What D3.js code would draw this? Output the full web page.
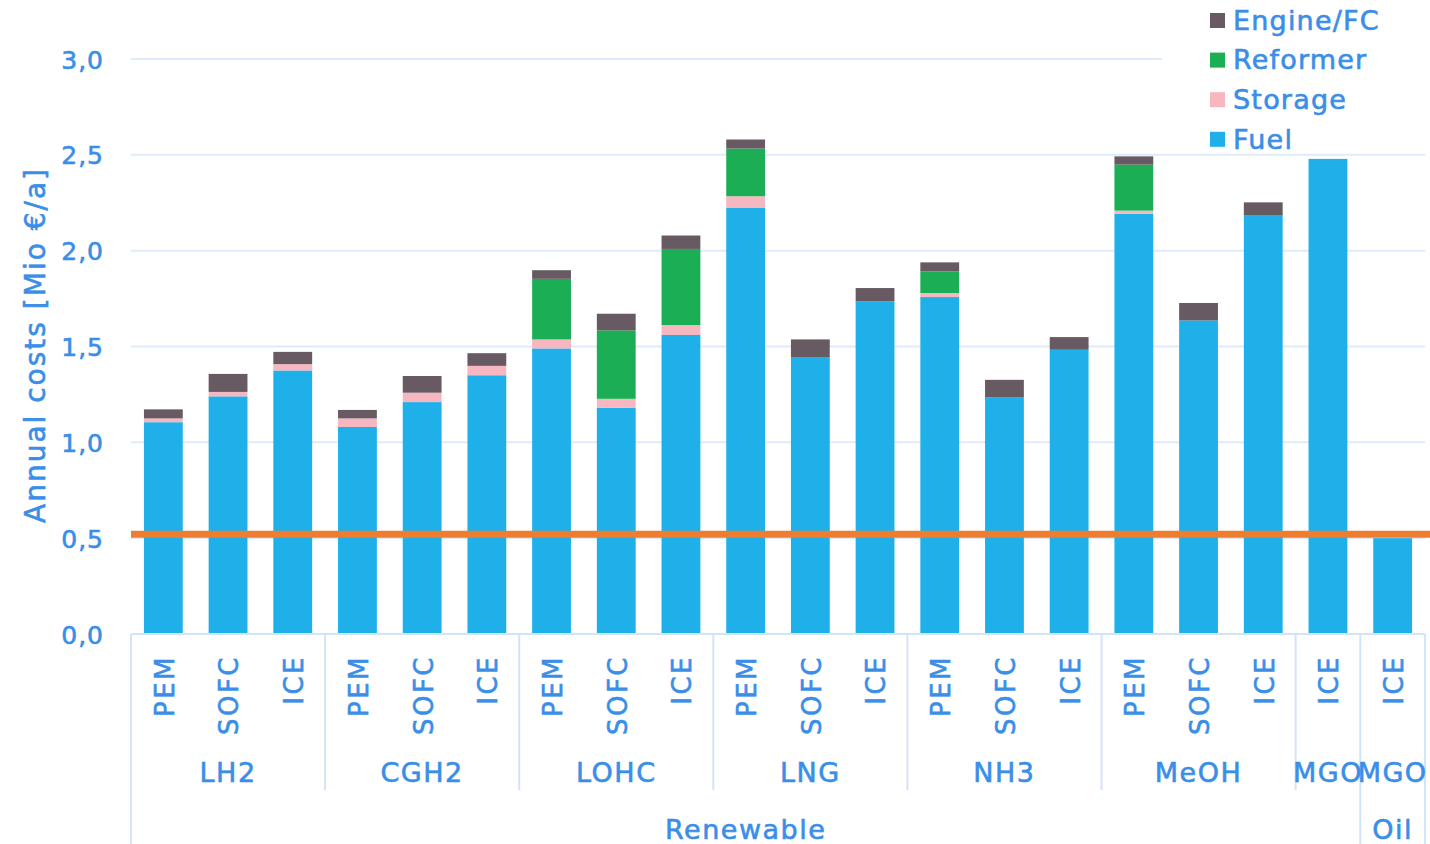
<!DOCTYPE html>
<html>
<head>
<meta charset="utf-8">
<script src="https://cdn.jsdelivr.net/npm/d3@7"></script>
<style>
  html, body { margin: 0; padding: 0; background: #ffffff; }
  svg { display: block; }
  text { font-family: "DejaVu Sans", sans-serif; fill: #3a8ee8; stroke: #3a8ee8; stroke-width: 0.6px; }
</style>
</head>
<body>
<svg id="chart" width="1430" height="844"></svg>
<script>
// Drive-train option per bar
const techs = ["PEM","SOFC","ICE","PEM","SOFC","ICE","PEM","SOFC","ICE","PEM","SOFC","ICE","PEM","SOFC","ICE","PEM","SOFC","ICE","ICE","ICE"];
// Fuel group per bar
const fuels = ["LH2","LH2","LH2","CGH2","CGH2","CGH2","LOHC","LOHC","LOHC","LNG","LNG","LNG","NH3","NH3","NH3","MeOH","MeOH","MeOH","MGO","MGO"];
// Sector per bar
const sectors = ["Renewable","Renewable","Renewable","Renewable","Renewable","Renewable","Renewable","Renewable","Renewable","Renewable","Renewable","Renewable","Renewable","Renewable","Renewable","Renewable","Renewable","Renewable","Renewable","Oil"];

// Annual cost components [Mio €/a]
const fuelCost     = [1.105,1.240,1.375, 1.080,1.210,1.350, 1.490,1.180,1.560, 2.225,1.445,1.735, 1.758,1.236,1.483, 2.193,1.636,2.186, 2.479,0.500];
const storageCost  = [0.020,0.023,0.033, 0.045,0.049,0.049, 0.047,0.047,0.052, 0.059,0.000,0.000, 0.021,0.000,0.000, 0.016,0.000,0.000, 0.000,0.000];
const reformerCost = [0.000,0.000,0.000, 0.000,0.000,0.000, 0.316,0.357,0.397, 0.249,0.000,0.000, 0.113,0.000,0.000, 0.240,0.000,0.000, 0.000,0.000];
const engineCost   = [0.047,0.094,0.064, 0.044,0.087,0.066, 0.045,0.087,0.070, 0.047,0.092,0.070, 0.047,0.090,0.066, 0.043,0.091,0.066, 0.000,0.000];

// Reference cost level (conventional MGO/oil case)
const referenceLine = 0.52;

const yTicks = [0, 0.5, 1.0, 1.5, 2.0, 2.5, 3.0];

const seriesKeys = ["Fuel","Storage","Reformer","Engine/FC"];
const seriesColors = {"Fuel":"#1fb0ea","Storage":"#f6b7c1","Reformer":"#1bae55","Engine/FC":"#675a63"};
const legendOrder = ["Engine/FC","Reformer","Storage","Fuel"];

const rows = techs.map((t, i) => ({
  idx: i,
  "Fuel": fuelCost[i],
  "Storage": storageCost[i],
  "Reformer": reformerCost[i],
  "Engine/FC": engineCost[i]
}));

const svg = d3.select("#chart");
const plotLeft = 131, plotRight = 1425, plotTop = 59, plotBottom = 634;

const x = d3.scaleBand().domain(d3.range(techs.length)).range([plotLeft, plotRight]).paddingInner(0.4).paddingOuter(0.2);
const y = d3.scaleLinear().domain([0, 3]).range([plotBottom, plotTop]);

const locale = d3.formatLocale({decimal: ",", thousands: ".", grouping: [3], currency: ["", "€"]});
const fmt = locale.format(".1f");

// Gridlines (top one stops short of the legend)
svg.append("g").selectAll("line").data(yTicks.filter(d => d > 0)).join("line")
  .attr("x1", plotLeft)
  .attr("x2", d => d === 3 ? 1162 : plotRight)
  .attr("y1", d => y(d)).attr("y2", d => y(d))
  .attr("stroke", "#deebfa").attr("stroke-width", 2);

// Y axis labels
const yAxis = svg.append("g").attr("transform", `translate(${plotLeft - 27},0)`)
  .call(d3.axisLeft(y).tickValues(yTicks).tickFormat(fmt).tickSize(0).tickPadding(0));
yAxis.select(".domain").remove();
yAxis.selectAll("text")
  .attr("font-size", 25).attr("letter-spacing", 1)
  .attr("fill", "#4094ea").attr("stroke", "#4094ea").attr("dy", "0.36em");

// Y axis title
svg.append("text")
  .attr("transform", `translate(45,345) rotate(-90)`)
  .attr("text-anchor", "middle")
  .attr("font-size", 28)
  .attr("letter-spacing", 2)
  .text("Annual costs [Mio €/a]");

// Stacked bars
const stacked = d3.stack().keys(seriesKeys)(rows);
svg.append("g").selectAll("g").data(stacked).join("g")
  .attr("fill", s => seriesColors[s.key])
  .selectAll("rect").data(s => s.filter(d => d[1] - d[0] > 0)).join("rect")
  .attr("x", d => x(d.data.idx))
  .attr("width", x.bandwidth())
  .attr("y", d => y(d[1]))
  .attr("height", d => y(d[0]) - y(d[1]));

// Reference line
svg.append("line")
  .attr("x1", plotLeft).attr("x2", 1430)
  .attr("y1", y(referenceLine)).attr("y2", y(referenceLine))
  .attr("stroke", "#ee7d2f").attr("stroke-width", 7);

// Category axis frame
const axisColor = "#d2e4f8";
svg.append("line").attr("x1", plotLeft).attr("x2", plotRight).attr("y1", plotBottom).attr("y2", plotBottom)
  .attr("stroke", axisColor).attr("stroke-width", 2);

// Group spans
const groupSpans = [];
fuels.forEach((f, i) => {
  const key = sectors[i] + "|" + f;
  const last = groupSpans[groupSpans.length - 1];
  if (last && last.key === key) last.end = i; else groupSpans.push({key, label: f, start: i, end: i});
});
const sectorSpans = [];
sectors.forEach((s, i) => {
  const last = sectorSpans[sectorSpans.length - 1];
  if (last && last.label === s) last.end = i; else sectorSpans.push({label: s, start: i, end: i});
});
const edgeAt = i => i === 0 ? plotLeft : (i === techs.length ? plotRight : x(i) - x.step() * x.paddingInner() / 2);

// Vertical separators: sector edges run full height, fuel group edges shorter
const sectorEdges = new Set([0, techs.length, ...sectorSpans.map(s => s.start)]);
const groupEdges = new Set(groupSpans.map(g => g.start));
svg.append("g").selectAll("line").data([...new Set([...sectorEdges, ...groupEdges])]).join("line")
  .attr("x1", d => edgeAt(d)).attr("x2", d => edgeAt(d))
  .attr("y1", plotBottom)
  .attr("y2", d => sectorEdges.has(d) ? 844 : 790)
  .attr("stroke", axisColor).attr("stroke-width", 2);

// Drive-train labels (rotated)
svg.append("g").selectAll("text").data(techs).join("text")
  .attr("transform", (d, i) => `translate(${x(i) + x.bandwidth() / 2 + 1},655) rotate(-90)`)
  .attr("text-anchor", "end")
  .attr("dy", "0.36em")
  .attr("font-size", 26)
  .attr("letter-spacing", 2.5)
  .text(d => d);

// Fuel group labels
svg.append("g").selectAll("text").data(groupSpans).join("text")
  .attr("x", d => (edgeAt(d.start) + edgeAt(d.end + 1)) / 2)
  .attr("y", 782)
  .attr("text-anchor", "middle")
  .attr("font-size", 27)
  .attr("letter-spacing", 1.5)
  .text(d => d.label);

// Sector labels
svg.append("g").selectAll("text").data(sectorSpans).join("text")
  .attr("x", d => (edgeAt(d.start) + edgeAt(d.end + 1)) / 2)
  .attr("y", 839)
  .attr("text-anchor", "middle")
  .attr("font-size", 27)
  .attr("letter-spacing", 1.5)
  .text(d => d.label);

// Legend
const legend = svg.append("g").selectAll("g").data(legendOrder).join("g")
  .attr("transform", (d, i) => `translate(1210,${20 + i * 39.6})`);
legend.append("rect").attr("x", 0).attr("y", -7).attr("width", 15).attr("height", 15)
  .attr("fill", d => seriesColors[d]);
legend.append("text").attr("x", 23).attr("dy", "0.36em")
  .attr("font-size", 27).attr("letter-spacing", 1.2)
  .text(d => d);
</script>
</body>
</html>
